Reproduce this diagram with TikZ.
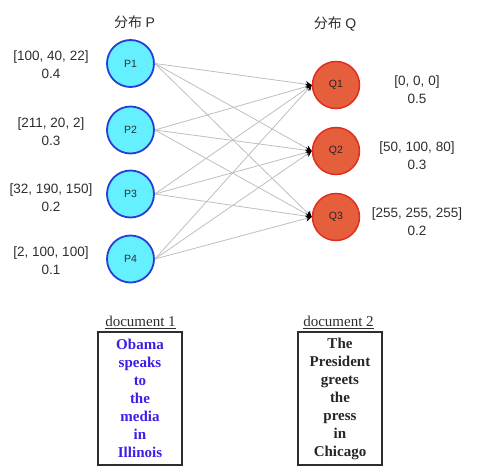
\documentclass[tikz,border=0pt]{standalone}
\usepackage{fontspec}
\setmainfont{Liberation Serif}
\setsansfont{Liberation Sans}
\newfontfamily\cjk{Noto Sans CJK SC}
\usetikzlibrary{arrows.meta}
\definecolor{pfill}{RGB}{100,240,255}
\definecolor{pdraw}{RGB}{40,60,215}
\definecolor{qfill}{RGB}{230,95,60}
\definecolor{qdraw}{RGB}{225,45,30}
\definecolor{edgegray}{RGB}{190,190,190}
\definecolor{labgray}{RGB}{45,45,45}
\definecolor{docblue}{RGB}{60,30,232}
\tikzset{
  pnode/.style={circle, draw=pdraw, fill=pfill, line width=1.8pt, minimum size=47pt, inner sep=0pt,
    font=\sffamily\fontsize{10.5}{12}\selectfont, text=labgray},
  qnode/.style={circle, draw=qdraw, fill=qfill, line width=1.5pt, minimum size=47pt, inner sep=0pt,
    font=\sffamily\fontsize{10.5}{12}\selectfont, text=labgray!80!black},
  vallabel/.style={align=center, font=\sffamily\fontsize{13.5}{18}\selectfont, text=labgray, inner sep=0pt},
  title/.style={font=\fontsize{14}{16}\selectfont, text=labgray, inner sep=0pt},
  link/.style={draw=edgegray, line width=0.8pt, -{Stealth[length=6pt,width=6pt,black]}},
  doctitle/.style={font=\fontsize{15}{17}\selectfont, text=labgray, inner sep=0pt},
  docbox/.style={draw=labgray, line width=1.3pt, minimum width=84pt, minimum height=133pt, align=center,
    font=\bfseries\fontsize{15}{18}\selectfont, inner sep=0pt}
}
\begin{document}
\begin{tikzpicture}[x=1pt,y=-1pt]
\useasboundingbox (0,0) rectangle (480,476);
\node[title] (tp) at (134.5,22) {{\cjk 分布} \sffamily P};
\node[title] (tq) at (335,24) {{\cjk 分布} \sffamily Q};

\node[pnode] (P1) at (130.5,63.5) {P1};
\node[pnode] (P2) at (130.5,130) {P2};
\node[pnode] (P3) at (130.5,194) {P3};
\node[pnode] (P4) at (130.5,259) {P4};

\node[qnode] (Q1) at (336,85) {Q1};
\node[qnode] (Q2) at (336,151) {Q2};
\node[qnode] (Q3) at (336,217) {Q3};

\node[vallabel] (lp1) at (51,64.5) {[100, 40, 22]\\0.4};
\node[vallabel] (lp2) at (51,132) {[211, 20, 2]\\0.3};
\node[vallabel] (lp3) at (51,198) {[32, 190, 150]\\0.2};
\node[vallabel] (lp4) at (51,261) {[2, 100, 100]\\0.1};

\node[vallabel] (lq1) at (417,90) {[0, 0, 0]\\0.5};
\node[vallabel] (lq2) at (417,156) {[50, 100, 80]\\0.3};
\node[vallabel] (lq3) at (417,222) {[255, 255, 255]\\0.2};

\foreach \p in {P1,P2,P3,P4}{
  \foreach \q in {Q1,Q2,Q3}{
    \draw[link] (\p.east) -- (\q.west);
  }
}

\node[doctitle] (d1t) at (140.5,322.5) {\underline{document 1}};
\node[doctitle] (d2t) at (338.5,322.5) {\underline{document 2}};

\node[docbox, text=docblue] (d1) at (140,398.5) {Obama\\speaks\\to\\the\\media\\in\\Illinois};
\node[docbox, text=black!85] (d2) at (340,398.5) {The\\President\\greets\\the\\press\\in\\Chicago};
\end{tikzpicture}
\end{document}
